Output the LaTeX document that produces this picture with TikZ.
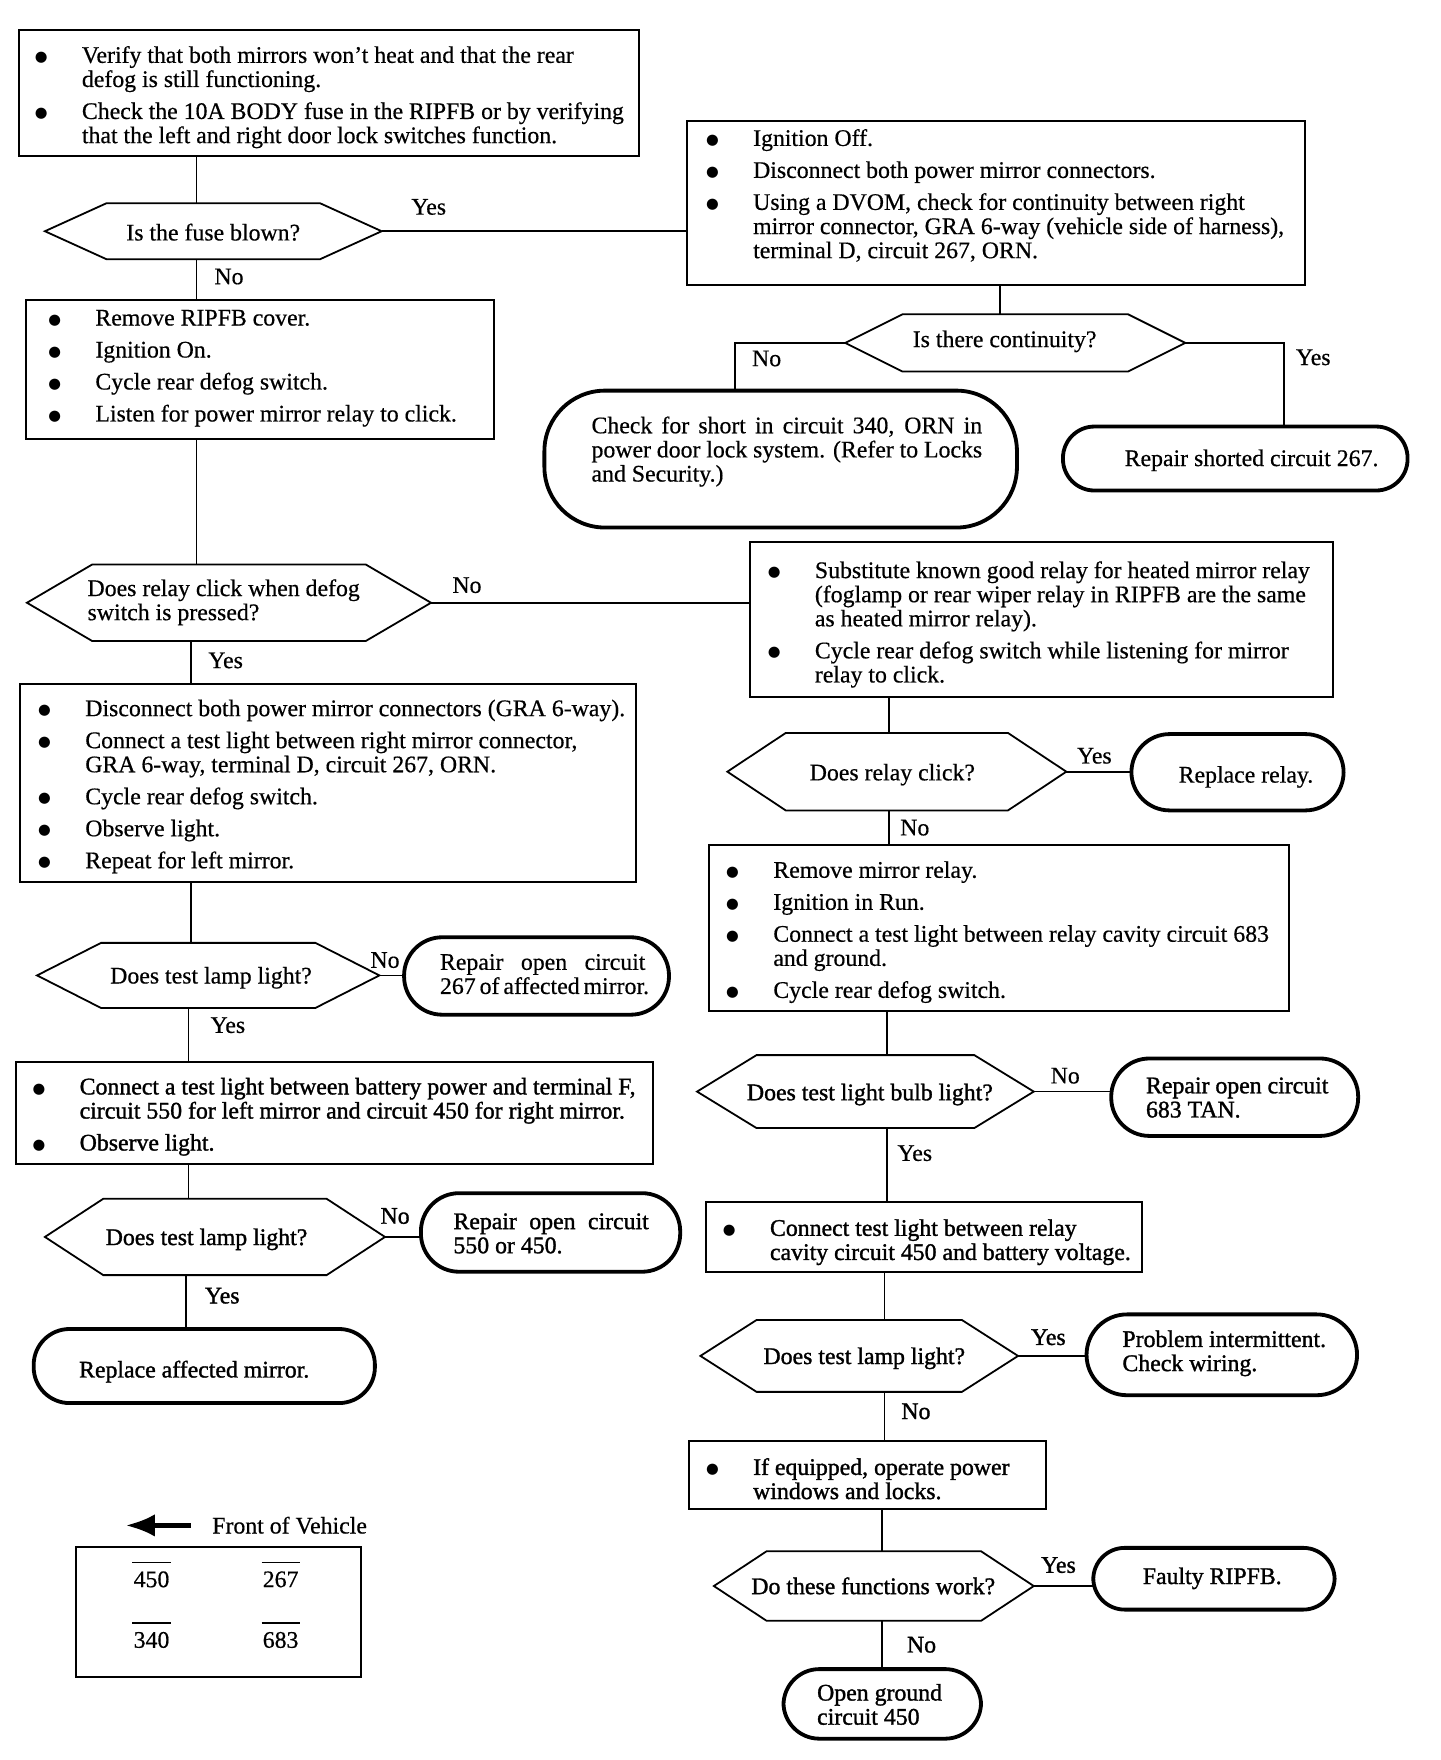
\documentclass[tikz,border=0pt]{standalone}
\usepackage{fontspec}
\setmainfont[FakeBold=0.5]{Liberation Serif}
\newfontfamily\hvfont[FakeBold=1.3]{Liberation Serif}
\newfontfamily\symf{DejaVu Sans}
\usetikzlibrary{fit,calc,arrows.meta}
\newcommand\fs{\fontsize{10.6}{10.75}\selectfont}
\newcommand\bu{\makebox[21pt][l]{\raisebox{0.6pt}{\symf\fontsize{6.5}{6.5}\selectfont ●}}}
\newcommand\gap{\\[3.5pt]}
\newcommand\blist[1]{\begin{tabular}[t]{@{}l@{}l@{}}#1\end{tabular}}
\newcommand\lines[1]{\begin{tabular}[t]{@{}l@{}}#1\end{tabular}}
\newcommand\jl[2]{\makebox[#1][s]{#2}}
\newcommand\ovl[1]{\begin{tabular}[b]{@{}c@{}}\rule{17pt}{0.6pt}\\#1\end{tabular}}
\newcommand\hexa[2]{\draw[hexline] (#1.west) -- ($(#1.north west)+(#2,0)$) -- ($(#1.north east)+(-#2,0)$) -- (#1.east) -- ($(#1.south east)+(-#2,0)$) -- ($(#1.south west)+(#2,0)$) -- cycle;}
\tikzset{
  every node/.style={font=\fs, inner sep=0pt, outer sep=0pt},
  procbox/.style={draw, line width=0.9pt},
  hexbase/.style={},
  hexline/.style={line width=0.8pt, line join=miter},
  term/.style={draw, line width=1.7pt},
  conn/.style={line width=0.8pt},
  txt/.style={anchor=base west, yshift=-1.5pt},
  ct/.style={anchor=base, yshift=-3.6pt},
}
\begin{document}
\begin{tikzpicture}[x=0.5pt, y=-0.5pt]
\fill[white] (0,0) rectangle (1283,1568);
\useasboundingbox (0,0) rectangle (1283,1568);

% ---------- process boxes ----------
\node[procbox, fit={(17,27) (569,139)}] (bA) {};
\node[txt] (bAt) at (31,53) {\blist{\bu & Verify that both mirrors won’t heat and that the rear\\ & defog is still functioning.\gap \bu & Check the 10A BODY fuse in the RIPFB or by verifying\\ & that the left and right door lock switches function.}};

\node[procbox, fit={(612,108) (1163,254)}] (bB) {};
\node[txt] (bBt) at (629,127) {\blist{\bu & Ignition Off.\gap \bu & Disconnect both power mirror connectors.\gap \bu & Using a DVOM, check for continuity between right\\ & mirror connector, GRA 6-way (vehicle side of harness),\\ & terminal D, circuit 267, ORN.}};

\node[procbox, fit={(23,267) (440,391)}] (bC) {};
\node[txt] (bCt) at (43,287) {\blist{\bu & Remove RIPFB cover.\gap \bu & Ignition On.\gap \bu & Cycle rear defog switch.\gap \bu & Listen for power mirror relay to click.}};

\node[procbox, fit={(18,609) (567,786)}] (bD) {};
\node[txt] (bDt) at (34,635) {\blist{\bu & Disconnect both power mirror connectors (GRA 6-way).\gap \bu & Connect a test light between right mirror connector,\\ & GRA 6-way, terminal D, circuit 267, ORN.\gap \bu & Cycle rear defog switch.\gap \bu & Observe light.\gap \bu & Repeat for left mirror.}};

\node[procbox, fit={(668,483) (1188,621)}] (bE) {};
\node[txt] (bEt) at (684,512) {\blist{\bu & Substitute known good relay for heated mirror relay\\ & (foglamp or rear wiper relay in RIPFB are the same\\ & as heated mirror relay).\gap \bu & Cycle rear defog switch while listening for mirror\\ & relay to click.}};

\node[procbox, fit={(14,946) (582,1037)}] (bF) {};
\node[txt, font=\fs\hvfont] (bFt) at (29,972) {\blist{\bu & Connect a test light between battery power and terminal F,\\ & circuit 550 for left mirror and circuit 450 for right mirror.\gap \bu & Observe light.}};

\node[procbox, fit={(632,753) (1148,901)}] (bG) {};
\node[txt] (bGt) at (647,779) {\blist{\bu & Remove mirror relay.\gap \bu & Ignition in Run.\gap \bu & Connect a test light between relay cavity circuit 683\\ & and ground.\gap \bu & Cycle rear defog switch.}};

\node[procbox, fit={(629,1071) (1017,1133)}] (bH) {};
\node[txt, font=\fs\hvfont] (bHt) at (644,1098) {\blist{\bu & Connect test light between relay\\ & cavity circuit 450 and battery voltage.}};

\node[procbox, fit={(614,1284) (932,1344)}] (bI) {};
\node[txt, font=\fs\hvfont] (bIt) at (629,1311) {\blist{\bu & If equipped, operate power\\ & windows and locks.}};

% ---------- decisions ----------
\node[hexbase, fit={(40,181) (340,231)}] (d1) {}; \hexa{d1}{55}
\node[ct] (d1t) at (190,207) {Is the fuse blown?};
\node[hexbase, fit={(753,280) (1056,331)}] (d2) {}; \hexa{d2}{51}
\node[ct] (d2t) at (895,302) {Is there continuity?};
\node[hexbase, fit={(24,503) (384,571)}] (d3) {}; \hexa{d3}{58}
\node[txt] (d3t) at (78,528) {\lines{Does relay click when defog\\switch is pressed?}};
\node[hexbase, fit={(33,840) (338,898)}] (d4) {}; \hexa{d4}{57}
\node[ct] (d4t) at (188,869) {Does test lamp light?};
\node[hexbase, fit={(40,1068) (343,1136)}] (d5) {}; \hexa{d5}{52}
\node[ct, font=\fs\hvfont] (d5t) at (184,1102) {Does test lamp light?};
\node[hexbase, fit={(648,653) (950,722)}] (d6) {}; \hexa{d6}{52}
\node[ct] (d6t) at (795,688) {Does relay click?};
\node[hexbase, fit={(621,940) (921,1005)}] (d7) {}; \hexa{d7}{53}
\node[ct, font=\fs\hvfont] (d7t) at (775,973) {Does test light bulb light?};
\node[hexbase, fit={(624,1176) (907,1240)}] (d8) {}; \hexa{d8}{50}
\node[ct, font=\fs\hvfont] (d8t) at (770,1208) {Does test lamp light?};
\node[hexbase, fit={(636,1382) (921,1444)}] (d9) {}; \hexa{d9}{47}
\node[ct, font=\fs\hvfont] (d9t) at (778,1413) {Do these functions work?};

% ---------- terminals ----------
\node[term, rounded corners=27pt, fit={(485,348) (906,470)}] (t1) {};
\node[txt] (t1t) at (527,383) {\lines{\jl{174pt}{Check for short in circuit 340, ORN in}\\\jl{174pt}{power door lock system. (Refer to Locks}\\and Security.)}};
\node[term, rounded corners=14pt, fit={(947,380) (1254,437)}] (t2) {};
\node[ct] (t2t) at (1115,408) {Repair shorted circuit 267.};
\node[term, rounded corners=17pt, fit={(360,835) (596,904)}] (t3) {};
\node[txt] (t3t) at (392,861) {\lines{\jl{91.5pt}{Repair open circuit}\\\jl{91.5pt}{267 of affected mirror.}}};
\node[term, rounded corners=17pt, fit={(375,1063) (606,1133)}] (t4) {};
\node[txt, font=\fs\hvfont] (t4t) at (404,1092) {\lines{\jl{87pt}{Repair open circuit}\\550 or 450.}};
\node[term, rounded corners=16pt, fit={(30,1184) (334,1250)}] (t5) {};
\node[ct, font=\fs\hvfont] (t5t) at (173,1220) {Replace affected mirror.};
\node[term, rounded corners=17pt, fit={(1008,654) (1197,722)}] (t6) {};
\node[ct] (t6t) at (1110,690) {Replace relay.};
\node[term, rounded corners=17pt, fit={(990,943) (1210,1012)}] (t7) {};
\node[txt, font=\fs\hvfont] (t7t) at (1021,971) {\lines{Repair open circuit\\683 TAN.}};
\node[term, rounded corners=18pt, fit={(968,1171) (1209,1243)}] (t8) {};
\node[txt, font=\fs\hvfont] (t8t) at (1000,1197) {\lines{Problem intermittent.\\Check wiring.}};
\node[term, rounded corners=14pt, fit={(974,1379) (1189,1434)}] (t9) {};
\node[ct, font=\fs\hvfont] (t9t) at (1080,1404) {Faulty RIPFB.};
\node[term, rounded corners=16pt, fit={(698,1487) (874,1549)}] (t10) {};
\node[txt, font=\fs\hvfont] (t10t) at (728,1512) {\lines{Open ground\\circuit 450}};

% ---------- connector columns ----------
\coordinate (xa) at (175,0);
\coordinate (xb) at (170,0);
\coordinate (xc) at (168,0);
\coordinate (xd) at (166,0);
\coordinate (xe) at (891,0);
\coordinate (xf) at (792,0);
\coordinate (xg) at (790,0);
\coordinate (xh) at (788,0);
\coordinate (xi) at (786,0);
\coordinate (xt1) at (655,0);
\coordinate (xt2) at (1144,0);

\draw[conn] (bA.south -| xa) -- (d1.north -| xa);
\draw[conn] (d1.east) -- (d1.east -| bB.west);
\draw[conn] (d1.south -| xa) -- (bC.north -| xa);
\draw[conn] (bB.south -| xe) -- (d2.north -| xe);
\draw[conn] (d2.west) -| (t1.north -| xt1);
\draw[conn] (d2.east) -| (t2.north -| xt2);
\draw[conn] (bC.south -| xa) -- (d3.north -| xa);
\draw[conn] (d3.east) -- (d3.east -| bE.west);
\draw[conn] (d3.south -| xb) -- (bD.north -| xb);
\draw[conn] (bD.south -| xb) -- (d4.north -| xb);
\draw[conn] (d4.east) -- (d4.east -| t3.west);
\draw[conn] (d4.south -| xc) -- (bF.north -| xc);
\draw[conn] (bF.south -| xc) -- (d5.north -| xc);
\draw[conn] (d5.east) -- (d5.east -| t4.west);
\draw[conn] (d5.south -| xd) -- (t5.north -| xd);
\draw[conn] (bE.south -| xf) -- (d6.north -| xf);
\draw[conn] (d6.east) -- (d6.east -| t6.west);
\draw[conn] (d6.south -| xf) -- (bG.north -| xf);
\draw[conn] (bG.south -| xg) -- (d7.north -| xg);
\draw[conn] (d7.east) -- (d7.east -| t7.west);
\draw[conn] (d7.south -| xg) -- (bH.north -| xg);
\draw[conn] (bH.south -| xh) -- (d8.north -| xh);
\draw[conn] (d8.east) -- (d8.east -| t8.west);
\draw[conn] (d8.south -| xh) -- (bI.north -| xh);
\draw[conn] (bI.south -| xi) -- (d9.north -| xi);
\draw[conn] (d9.east) -- (d9.east -| t9.west);
\draw[conn] (d9.south -| xi) -- (t10.north -| xi);

% ---------- Yes / No labels ----------
\node[ct] (l1y) at (382,184) {Yes};
\node[ct] (l1n) at (204,246) {No};
\node[ct] (l2n) at (683,319) {No};
\node[ct] (l2y) at (1170,318) {Yes};
\node[ct] (l3n) at (416,521) {No};
\node[ct] (l3y) at (201,588) {Yes};
\node[ct] (l4n) at (343,855) {No};
\node[ct] (l4y) at (203,913) {Yes};
\node[ct, font=\fs\hvfont] (l5n) at (352,1083) {No};
\node[ct, font=\fs\hvfont] (l5y) at (198,1154) {Yes};
\node[ct] (l6y) at (975,673) {Yes};
\node[ct] (l6n) at (815,737) {No};
\node[ct] (l7n) at (949,958) {No};
\node[ct] (l7y) at (815,1027) {Yes};
\node[ct, font=\fs\hvfont] (l8y) at (934,1191) {Yes};
\node[ct, font=\fs\hvfont] (l8n) at (816,1257) {No};
\node[ct, font=\fs\hvfont] (l9y) at (943,1394) {Yes};
\node[ct, font=\fs\hvfont] (l9n) at (821,1465) {No};

% ---------- legend ----------
\coordinate (fvS) at (170,1359);
\coordinate (fvE) at (112,1359);
\draw[line width=2pt, -{Latex[length=13pt,width=10pt]}] (fvS) -- (fvE);
\node[ct] (fv) at (258,1359) {Front of Vehicle};
\node[procbox, fit={(68,1378) (322,1494)}] (leg) {};
\node[anchor=base] (n450) at (135,1414) {\ovl{450}};
\node[anchor=base] (n267) at (250,1414) {\ovl{267}};
\node[anchor=base] (n340) at (135,1468) {\ovl{340}};
\node[anchor=base] (n683) at (250,1468) {\ovl{683}};
\end{tikzpicture}
\end{document}
